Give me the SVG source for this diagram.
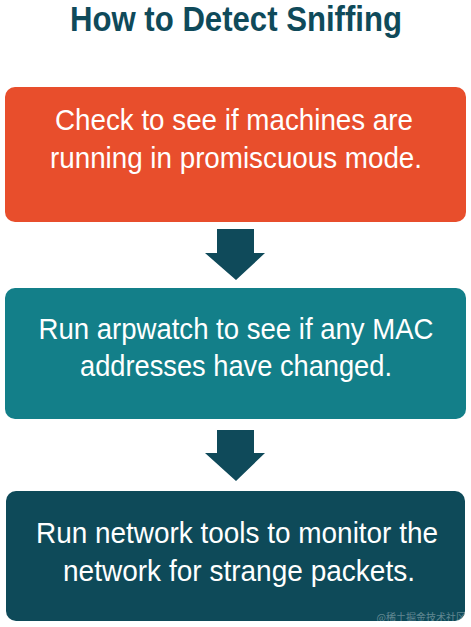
<svg xmlns="http://www.w3.org/2000/svg" width="471" height="627" viewBox="0 0 471 627">
  <style>
    .title { font-family: "Liberation Sans Narrow", "Liberation Sans", Arial, sans-serif; font-size: 35px; font-weight: bold; fill: #0f4a5a; }
    .lbl { font-family: "Liberation Sans Narrow", "Liberation Sans", Arial, sans-serif; font-size: 29px; fill: #ffffff; }
    .arrow { fill: #0f4a5a; }
    .wm { font-family: "Noto Sans CJK SC", "Noto Sans", sans-serif; font-size: 10px; fill: #ffffff; fill-opacity: 0.35; }
  </style>
  <rect x="0" y="0" width="471" height="627" fill="#ffffff"/>
  <g id="title">
    <text class="title" x="236" y="31" text-anchor="middle" textLength="332" lengthAdjust="spacingAndGlyphs">How to Detect Sniffing</text>
  </g>
  <g id="node1">
    <rect x="5" y="87" width="461" height="135" rx="10" fill="#e84e2c"/>
    <text class="lbl" x="234" y="130" text-anchor="middle" textLength="358" lengthAdjust="spacingAndGlyphs">Check to see if machines are</text>
    <text class="lbl" x="236" y="168" text-anchor="middle" textLength="372" lengthAdjust="spacingAndGlyphs">running in promiscuous mode.</text>
  </g>
  <g id="node2">
    <rect x="5" y="288" width="461" height="131" rx="10" fill="#137f89"/>
    <text class="lbl" x="236" y="339" text-anchor="middle" textLength="395" lengthAdjust="spacingAndGlyphs">Run arpwatch to see if any MAC</text>
    <text class="lbl" x="236" y="376" text-anchor="middle" textLength="312" lengthAdjust="spacingAndGlyphs">addresses have changed.</text>
  </g>
  <g id="node3">
    <rect x="6" y="491" width="459" height="130" rx="10" fill="#0e4a59"/>
    <text class="lbl" x="237" y="543" text-anchor="middle" textLength="402" lengthAdjust="spacingAndGlyphs">Run network tools to monitor the</text>
    <text class="lbl" x="239" y="581" text-anchor="middle" textLength="352" lengthAdjust="spacingAndGlyphs">network for strange packets.</text>
  </g>
  <g id="connectors">
    <polygon class="arrow" points="217,229 254,229 254,253 265,253 236,280 205,253 217,253"/>
    <polygon class="arrow" points="217,430 254,430 254,453 265,453 236,481 205,453 217,453"/>
  </g>
  <text class="wm" x="466" y="621" text-anchor="end">@稀土掘金技术社区</text>
</svg>
